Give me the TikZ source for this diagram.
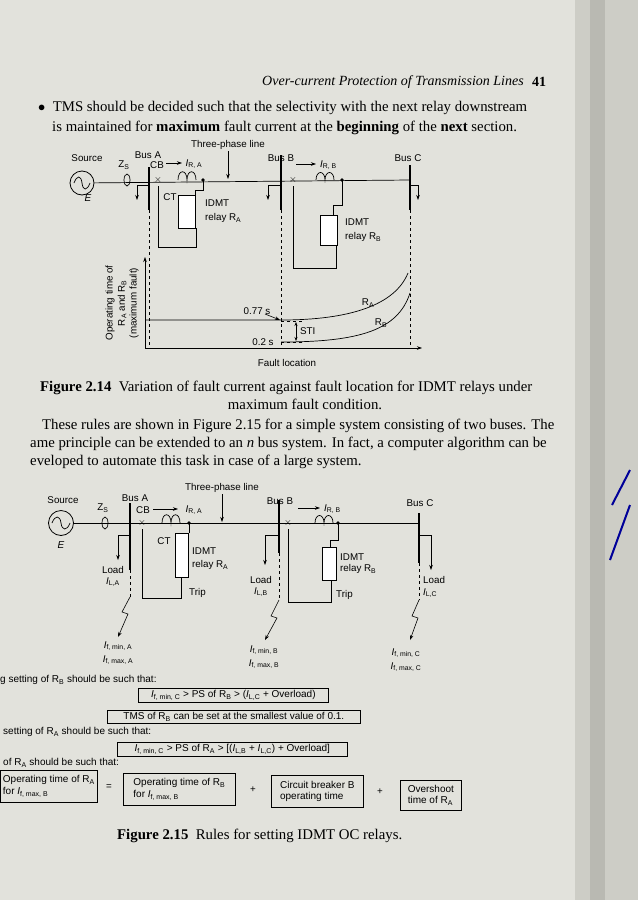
\documentclass[tikz,border=0pt]{standalone}
\usepackage{fontspec}
\setmainfont{Liberation Serif}
\newfontfamily\dsans{Liberation Sans}
\usetikzlibrary{arrows.meta}
\definecolor{pagebg}{RGB}{226,226,220}
\definecolor{bindA}{RGB}{205,205,198}
\definecolor{bindB}{RGB}{185,185,178}
\newcommand\Isub[2]{\textit{#1}\textsubscript{#2}}
\newcommand\Rsub[1]{R\textsubscript{#1}}
\begin{document}
\begin{tikzpicture}[x=1pt,y=-1pt,
  lbl/.style={font=\dsans\fontsize{9.8}{11}\selectfont,inner sep=0pt},
  body/.style={font=\fontsize{14.8}{17}\selectfont,inner sep=0pt,anchor=west},
  wire/.style={line width=0.7pt},
  bus/.style={line width=2pt},
  dsh/.style={dashed,line width=0.6pt},
  arr/.style={-{Stealth[length=5pt,width=3.5pt]},line width=0.6pt},
  rbox/.style={draw,line width=0.7pt,fill=white},
  fbox/.style={draw,line width=0.7pt,font=\dsans\fontsize{10}{11.5}\selectfont,align=left,inner sep=2pt,anchor=north west}]
\path[use as bounding box,fill=pagebg] (0,0) rectangle (638,900);
\fill[bindA] (575,0) rectangle (638,900);
\fill[bindB] (590,0) rectangle (605,900);
\draw[line width=2pt,blue!60!black] (612,505) -- (630,470);
\draw[line width=2pt,blue!60!black] (610,560) -- (630,505);
% header
\node[inner sep=0pt,anchor=east,font=\itshape\fontsize{14}{16}\selectfont] (hdr) at (524,82) {Over-current Protection of Transmission Lines};
\node[inner sep=0pt,anchor=west,font=\bfseries\fontsize{14}{16}\selectfont] (pg) at (532,82) {41};
\node[body] (b1) at (38,108) {$\bullet$\ \ TMS should be decided such that the selectivity with the next relay downstream};
\node[body] (b2) at (52,128) {is maintained for \textbf{maximum} fault current at the \textbf{beginning} of the \textbf{next} section.};
% ===== Figure 2.14 =====
\node[lbl] (src1) at (87,158) {Source};
\node[draw,circle,minimum size=24pt,line width=0.8pt,inner sep=0pt] (g1) at (82,183) {};
\draw[line width=0.7pt] (74,183) .. controls (77,175) and (81,175) .. (82,183) .. controls (83,191) and (87,191) .. (90,183);
\node[lbl,font=\dsans\itshape\fontsize{10}{11}\selectfont] (e1) at (88,198) {E};
\draw[wire] (g1) -- (410,180);
\draw[wire] (127,180) ellipse (3 and 6);
\node[lbl] (zs1) at (124,165) {Z\textsubscript{S}};
\draw[bus] (149,167) -- (149,210);
\node[lbl] (ba1) at (148,155) {Bus A};
\node[lbl] (cb1) at (157,165) {CB};
\draw[arr] (166,163) -- (182,163);
\node[lbl] (ira) at (194,164) {\Isub{I}{R, A}};
\node[lbl] (tpl1) at (228,145) {Three-phase line};
\draw[arr] (228,151) -- (228,179);
\node[lbl] (x1) at (158,180) {$\times$};
\draw[wire] (178,180) .. controls (178,169) and (187,169) .. (187,180) .. controls (187,169) and (196,169) .. (196,180);
\fill (203,180) circle (1.8);
\node[lbl] (ct1) at (170,197) {CT};
\draw[rbox] (178,195) rectangle (195,228);
\draw[wire] (203,180) -- (203,190) -- (195,190) -- (195,195);
\draw[wire] (158,186) -- (158,247) -- (196,247) -- (196,228);
\node[lbl,anchor=west] (ida) at (205,203) {IDMT};
\node[lbl,anchor=west] (rla) at (205,218) {relay \Rsub{A}};
\draw[bus] (281,155) -- (281,210);
\node[lbl] (bb1) at (281,158) {Bus B};
\draw[arr] (296,164) -- (316,164);
\node[lbl,anchor=west] (irb) at (320,165) {\Isub{I}{R, B}};
\node[lbl] (x2) at (293,180) {$\times$};
\draw[wire] (316,180) .. controls (316,170) and (325,170) .. (325,180) .. controls (325,170) and (334,170) .. (334,180);
\fill (342,180) circle (1.8);
\draw[rbox] (320,215) rectangle (337,245);
\draw[wire] (342,180) -- (342,205) -- (333,205) -- (333,215);
\draw[wire] (293,186) -- (293,268) -- (336,268) -- (336,245);
\node[lbl,anchor=west] (idb) at (345,222) {IDMT};
\node[lbl,anchor=west] (rlb) at (345,237) {relay \Rsub{B}};
\draw[bus] (410,165) -- (410,210);
\node[lbl] (bc1) at (408,158) {Bus C};
\draw[arr] (149,185) -- (137,185) -- (137,200);
\draw[arr] (281,185) -- (268,185) -- (268,200);
\draw[arr] (410,185) -- (418,185) -- (418,200);
\draw[dsh] (149,210) -- (149,348);
\draw[dsh] (281,210) -- (281,348);
\draw[dsh] (410,210) -- (410,348);
\draw[arr] (145,348) -- (145,257);
\draw[arr] (145,348) -- (422,348);
\node[lbl] (fl) at (287,363) {Fault location};
\node[lbl,rotate=90] (yl1) at (110,303) {Operating time of};
\node[lbl,rotate=90] (yl2) at (122,303) {\Rsub{A} and \Rsub{B}};
\node[lbl,rotate=90] (yl3) at (134,303) {(maximum fault)};
\draw[wire] (145,320) -- (281,320) .. controls (350,320) and (395,305) .. (408,273);
\draw[wire] (281,342) .. controls (360,342) and (398,330) .. (410,293);
\node[lbl] (ra) at (368,303) {\Rsub{A}};
\node[lbl] (rb) at (381,323) {\Rsub{B}};
\node[lbl] (t77) at (257,311) {0.77 s};
\draw[arr] (265,314) -- (280,320);
\node[lbl] (t02) at (263,342) {0.2 s};
\draw[dsh] (281,321) -- (303,321);
\draw[dsh] (281,342) -- (303,342);
\draw[{Stealth[length=4pt,width=3pt]}-{Stealth[length=4pt,width=3pt]},line width=0.6pt] (296,322) -- (296,341);
\node[lbl,anchor=west] (sti) at (300,331) {STI};
\node[body] (c1) at (40,388) {\textbf{Figure 2.14}\ \ Variation of fault current against fault location for IDMT relays under};
\node[body,anchor=center] (c1b) at (305,404) {maximum fault condition.};
\node[body] (p1) at (42,426) {These rules are shown in Figure 2.15 for a simple system consisting of two buses. The};
\node[body] (p2) at (30,444) {ame principle can be extended to an \textit{n} bus system. In fact, a computer algorithm can be};
\node[body] (p3) at (30,462) {eveloped to automate this task in case of a large system.};
% ===== Figure 2.15 =====
\node[lbl] (tpl2) at (222,488) {Three-phase line};
\draw[arr] (222,494) -- (222,522);
\node[lbl] (src2) at (63,500) {Source};
\node[draw,circle,minimum size=25pt,line width=0.8pt,inner sep=0pt] (g2) at (61,523) {};
\draw[line width=0.7pt] (52,523) .. controls (55,515) and (60,515) .. (61,523) .. controls (62,531) and (67,531) .. (70,523);
\node[lbl,font=\dsans\itshape\fontsize{10}{11}\selectfont] (e2) at (61,545) {E};
\draw[wire] (g2) -- (419,523);
\draw[wire] (105,523) ellipse (3 and 6);
\node[lbl] (zs2) at (103,508) {Z\textsubscript{S}};
\draw[bus] (130,503) -- (130,570);
\node[lbl] (ba2) at (135,498) {Bus A};
\node[lbl] (cb2) at (143,510) {CB};
\draw[arr] (153,509) -- (178,509);
\node[lbl] (ira2) at (194,510) {\Isub{I}{R, A}};
\node[lbl] (x3) at (142,523) {$\times$};
\draw[wire] (162,523) .. controls (162,512) and (171,512) .. (171,523) .. controls (171,512) and (180,512) .. (180,523);
\fill (189,523) circle (1.8);
\node[lbl] (ct2) at (164,541) {CT};
\draw[rbox] (175,533) rectangle (188,577);
\draw[wire] (189,523) -- (189,533);
\draw[wire] (142,529) -- (142,598) -- (181,598) -- (181,577);
\node[lbl,anchor=west] (ida2) at (192,551) {IDMT};
\node[lbl,anchor=west] (rla2) at (192,565) {relay \Rsub{A}};
\node[lbl,anchor=west] (tra) at (189,593) {Trip};
\draw[bus] (279,500) -- (279,553);
\node[lbl] (bb2) at (280,501) {Bus B};
\draw[arr] (298,508) -- (320,508);
\node[lbl,anchor=west] (irb2) at (324,509) {\Isub{I}{R, B}};
\node[lbl] (x4) at (288,523) {$\times$};
\draw[wire] (315,523) .. controls (315,513) and (324,513) .. (324,523) .. controls (324,513) and (333,513) .. (333,523);
\fill (338,523) circle (1.8);
\draw[rbox] (322,547) rectangle (336,580);
\draw[wire] (338,523) -- (338,540) -- (330,540) -- (330,547);
\draw[wire] (288,529) -- (288,602) -- (331,602) -- (331,580);
\node[lbl,anchor=west] (idb2) at (340,557) {IDMT};
\node[lbl,anchor=west] (rlb2) at (340,569) {relay \Rsub{B}};
\node[lbl,anchor=west] (trb) at (336,595) {Trip};
\draw[bus] (419,513) -- (419,563);
\node[lbl] (bc2) at (420,503) {Bus C};
\draw[arr] (130,535) -- (118,535) -- (118,560);
\draw[arr] (279,535) -- (265,535) -- (265,565);
\draw[arr] (419,535) -- (431,535) -- (431,570);
\node[lbl] (la) at (113,570) {Load};
\node[lbl] (lia) at (113,582) {\Isub{I}{L,A}};
\node[lbl] (lb) at (261,580) {Load};
\node[lbl] (lib) at (261,592) {\Isub{I}{L,B}};
\node[lbl,anchor=west] (lc) at (423,580) {Load};
\node[lbl,anchor=west] (lic) at (423,593) {\Isub{I}{L,C}};
\draw[dsh] (130,570) -- (130,597);
\draw[dsh] (279,553) -- (279,600);
\draw[dsh] (419,563) -- (419,600);
\draw[arr] (130,597) -- (122,612) -- (128,614) -- (118,637);
\draw[arr] (279,600) -- (271,616) -- (277,618) -- (265,640);
\draw[arr] (419,600) -- (412,616) -- (418,618) -- (410,640);
\node[lbl] (fa1) at (118,646) {\Isub{I}{f, min, A}};
\node[lbl] (fa2) at (118,660) {\Isub{I}{f, max, A}};
\node[lbl] (fb1) at (264,650) {\Isub{I}{f, min, B}};
\node[lbl] (fb2) at (264,664) {\Isub{I}{f, max, B}};
\node[lbl] (fc1) at (406,653) {\Isub{I}{f, min, C}};
\node[lbl] (fc2) at (406,667) {\Isub{I}{f, max, C}};
\node[lbl,anchor=west,font=\dsans\fontsize{10}{11}\selectfont] (s1) at (0,680) {g setting of \Rsub{B} should be such that:};
\node[fbox,minimum width=190pt] (bx1) at (138,688) {\Isub{I}{f, min, C} > PS of \Rsub{B} > (\Isub{I}{L,C} + Overload)};
\node[fbox,minimum width=253pt] (bx2) at (107,710) {TMS of \Rsub{B} can be set at the smallest value of 0.1.};
\node[lbl,anchor=west,font=\dsans\fontsize{10}{11}\selectfont] (s2) at (3,732) {setting of \Rsub{A} should be such that:};
\node[fbox,minimum width=230pt] (bx3) at (117,742) {\Isub{I}{f, min, C} > PS of \Rsub{A} > [(\Isub{I}{L,B} + \Isub{I}{L,C}) + Overload]};
\node[lbl,anchor=west,font=\dsans\fontsize{10}{11}\selectfont] (s3) at (3,763) {of \Rsub{A} should be such that:};
\node[fbox,minimum width=97pt,minimum height=32pt] (bx4) at (0,770) {Operating time of \Rsub{A}\\for \Isub{I}{f, max, B}};
\node[lbl] (eq) at (109,787) {=};
\node[fbox,minimum width=112pt,minimum height=32pt] (bx5) at (123,773) {Operating time of \Rsub{B}\\for \Isub{I}{f, max, B}};
\node[lbl] (pl1) at (253,790) {+};
\node[fbox,minimum width=92pt,minimum height=32pt] (bx6) at (271,775) {Circuit breaker B\\operating time};
\node[lbl] (pl2) at (380,792) {+};
\node[fbox,minimum width=61pt,minimum height=30pt] (bx7) at (400,780) {Overshoot\\time of \Rsub{A}};
\node[body] (c2) at (117,836) {\textbf{Figure 2.15}\ \ Rules for setting IDMT OC relays.};
\end{tikzpicture}
\end{document}
